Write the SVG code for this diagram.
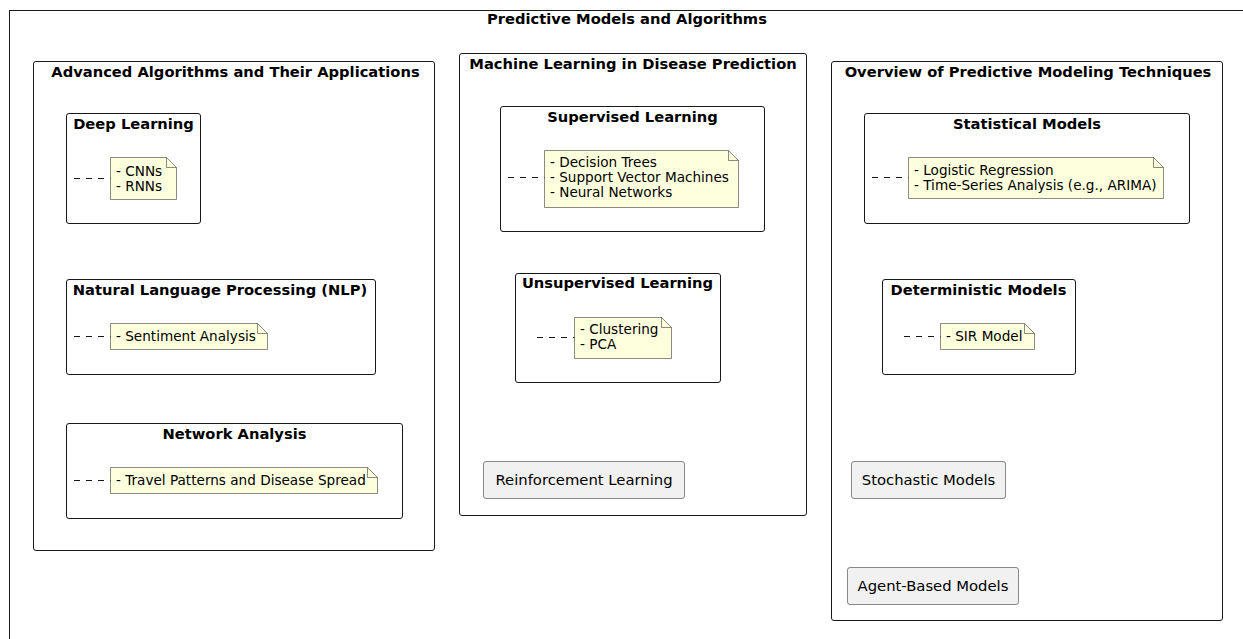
<svg xmlns="http://www.w3.org/2000/svg" width="1243" height="639" viewBox="0 0 1243 639">
<style>
.frame{fill:none;stroke:#181818;stroke-width:1}
.pkg{fill:none;stroke:#181818;stroke-width:1}
.box{fill:none;stroke:#181818;stroke-width:1}
.note{fill:#FEFFDD;stroke:#181818;stroke-width:0.5}
.fold{fill:none;stroke:#181818;stroke-width:0.5}
.rect{fill:#F1F1F1;stroke:#181818;stroke-width:0.5}
.dash{stroke:#181818;stroke-width:1;stroke-dasharray:6,6;fill:none}
.t{font-family:"DejaVu Sans",sans-serif;font-weight:bold;font-size:14.7px;fill:#000;text-anchor:middle}
.n{font-family:"DejaVu Sans",sans-serif;font-size:13.6px;fill:#000}
.r{font-family:"DejaVu Sans",sans-serif;font-size:14.8px;fill:#000;text-anchor:middle}
</style>
<g id="frame">
<rect class="frame" x="9.5" y="10.5" width="1300" height="700"/>
<text class="t" x="627" y="24">Predictive Models and Algorithms</text>
</g>

<g id="pkg-advanced">
<rect class="pkg" x="33.5" y="61.5" width="401" height="489" rx="2.5"/>
<text class="t" x="235.5" y="77">Advanced Algorithms and Their Applications</text>
</g>
<g id="pkg-ml">
<rect class="pkg" x="459.5" y="53.5" width="347" height="462" rx="2.5"/>
<text class="t" x="633" y="69">Machine Learning in Disease Prediction</text>
</g>
<g id="pkg-overview">
<rect class="pkg" x="831.5" y="61.5" width="391" height="559" rx="2.5"/>
<text class="t" x="1028" y="77">Overview of Predictive Modeling Techniques</text>
</g>

<g id="deep-learning">
<rect class="box" x="66.5" y="113.5" width="134" height="110" rx="2.5"/>
<text class="t" x="133.5" y="129">Deep Learning</text>
<path class="note" d="M110.5,157.5 H166.5 L176.5,167.5 V199.5 H110.5 Z"/>
<path class="fold" d="M166.5,157.5 V167.5 H176.5"/>
<text class="n" x="116" y="176">- CNNs</text>
<text class="n" x="116" y="191">- RNNs</text>
</g>
<g id="nlp">
<rect class="box" x="66.5" y="279.5" width="309" height="95" rx="2.5"/>
<text class="t" x="220" y="295">Natural Language Processing (NLP)</text>
<path class="note" d="M110.5,323.5 H257.5 L267.5,333.5 V349.5 H110.5 Z"/>
<path class="fold" d="M257.5,323.5 V333.5 H267.5"/>
<text class="n" x="116" y="341">- Sentiment Analysis</text>
</g>
<g id="network-analysis">
<rect class="box" x="66.5" y="423.5" width="336" height="95" rx="2.5"/>
<text class="t" x="234.5" y="439">Network Analysis</text>
<path class="note" d="M110.5,467.5 H367.5 L377.5,477.5 V493.5 H110.5 Z"/>
<path class="fold" d="M367.5,467.5 V477.5 H377.5"/>
<text class="n" x="116" y="485">- Travel Patterns and Disease Spread</text>
</g>

<g id="supervised">
<rect class="box" x="500.5" y="106.5" width="264" height="125" rx="2.5"/>
<text class="t" x="632.5" y="122">Supervised Learning</text>
<path class="note" d="M544.5,150.5 H728.5 L738.5,160.5 V207.5 H544.5 Z"/>
<path class="fold" d="M728.5,150.5 V160.5 H738.5"/>
<text class="n" x="550" y="167">- Decision Trees</text>
<text class="n" x="550" y="182">- Support Vector Machines</text>
<text class="n" x="550" y="197">- Neural Networks</text>
</g>
<g id="unsupervised">
<rect class="box" x="515.5" y="273.5" width="205" height="109" rx="2.5"/>
<text class="t" x="617.5" y="288">Unsupervised Learning</text>
<path class="note" d="M574.5,317.5 H661.5 L671.5,327.5 V358.5 H574.5 Z"/>
<path class="fold" d="M661.5,317.5 V327.5 H671.5"/>
<text class="n" x="580" y="334">- Clustering</text>
<text class="n" x="580" y="349">- PCA</text>
</g>
<g id="reinforcement">
<rect class="rect" x="483.5" y="461.5" width="201" height="37" rx="2.5"/>
<text class="r" x="584" y="485">Reinforcement Learning</text>
</g>

<g id="statistical">
<rect class="box" x="864.5" y="113.5" width="325" height="110" rx="2.5"/>
<text class="t" x="1027" y="129">Statistical Models</text>
<path class="note" d="M908.5,157.5 H1153.5 L1163.5,167.5 V198.5 H908.5 Z"/>
<path class="fold" d="M1153.5,157.5 V167.5 H1163.5"/>
<text class="n" x="914" y="175">- Logistic Regression</text>
<text class="n" x="914" y="190">- Time-Series Analysis (e.g., ARIMA)</text>
</g>
<g id="deterministic">
<rect class="box" x="882.5" y="279.5" width="193" height="95" rx="2.5"/>
<text class="t" x="978.5" y="295">Deterministic Models</text>
<path class="note" d="M940.5,323.5 H1024.5 L1034.5,333.5 V349.5 H940.5 Z"/>
<path class="fold" d="M1024.5,323.5 V333.5 H1034.5"/>
<text class="n" x="946" y="341">- SIR Model</text>
</g>
<g id="stochastic">
<rect class="rect" x="851.5" y="461.5" width="154" height="37" rx="2.5"/>
<text class="r" x="928.5" y="485">Stochastic Models</text>
</g>
<g id="agent-based">
<rect class="rect" x="847.5" y="567.5" width="171" height="37" rx="2.5"/>
<text class="r" x="933" y="591">Agent-Based Models</text>
</g>

<g id="connectors">
<line class="dash" x1="74" y1="178.5" x2="110.5" y2="178.5"/>
<line class="dash" x1="74" y1="336.5" x2="110.5" y2="336.5"/>
<line class="dash" x1="74" y1="480.5" x2="110.5" y2="480.5"/>
<line class="dash" x1="508" y1="177.5" x2="544.5" y2="177.5"/>
<line class="dash" x1="537" y1="337.5" x2="574.5" y2="337.5"/>
<line class="dash" x1="872" y1="177.5" x2="908.5" y2="177.5"/>
<line class="dash" x1="904" y1="336.5" x2="940.5" y2="336.5"/>
</g>
</svg>
